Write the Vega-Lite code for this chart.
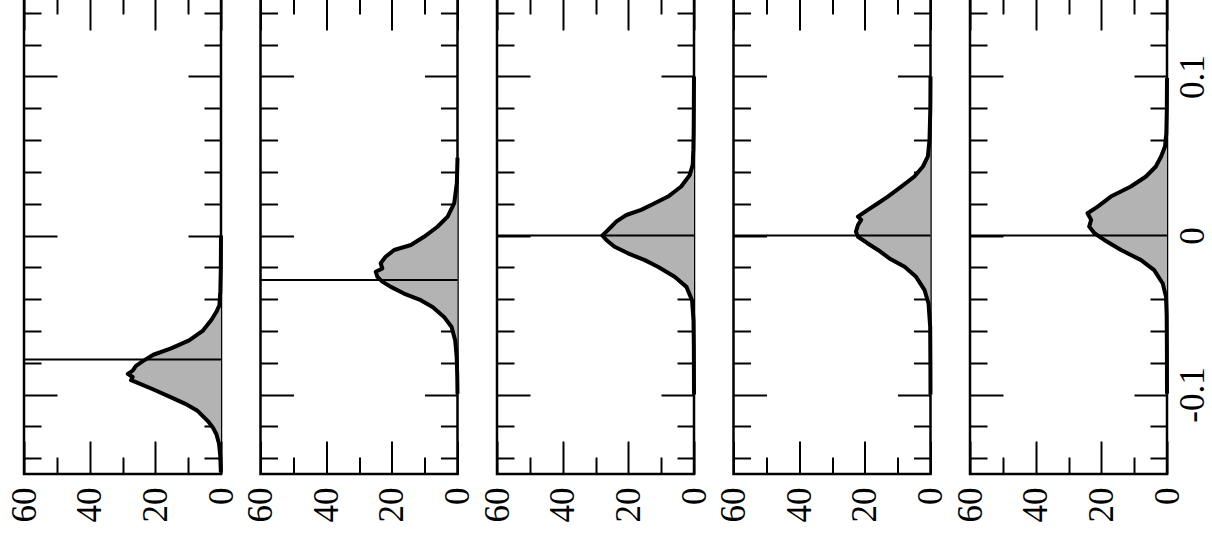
{
"$schema": "https://vega.github.io/schema/vega-lite/v6.json",
"padding": {"left": 5, "top": -6, "right": 0, "bottom": 0},
"background": "white",
"bounds": "flush",
"spacing": 39.5,
"datasets": {
"curves": [
{"p":1,"v":0.0,"d":0},{"p":1,"v":-0.02,"d":0.05},{"p":1,"v":-0.035,"d":0.2},{"p":1,"v":-0.044,"d":0.5},{"p":1,"v":-0.048,"d":1.4},{"p":1,"v":-0.053,"d":2.9},{"p":1,"v":-0.06,"d":5.6},{"p":1,"v":-0.066,"d":9.7},{"p":1,"v":-0.071,"d":15.2},{"p":1,"v":-0.075,"d":20.6},{"p":1,"v":-0.079,"d":23.8},{"p":1,"v":-0.082,"d":25.9},{"p":1,"v":-0.085,"d":26.9},{"p":1,"v":-0.087,"d":28.4},{"p":1,"v":-0.089,"d":26.9},{"p":1,"v":-0.091,"d":27.4},{"p":1,"v":-0.093,"d":25},{"p":1,"v":-0.097,"d":20.4},{"p":1,"v":-0.1018,"d":15.2},{"p":1,"v":-0.1057,"d":11},{"p":1,"v":-0.11,"d":7.3},{"p":1,"v":-0.1167,"d":4},{"p":1,"v":-0.121,"d":2.4},{"p":1,"v":-0.125,"d":1.4},{"p":1,"v":-0.131,"d":0.6},{"p":1,"v":-0.138,"d":0.25},{"p":1,"v":-0.146,"d":0.08},{"p":1,"v":-0.149,"d":0.05},
{"p":2,"v":0.049,"d":0},{"p":2,"v":0.033,"d":0.2},{"p":2,"v":0.0203,"d":1.0},{"p":2,"v":0.0119,"d":3},{"p":2,"v":0.0055,"d":6.1},{"p":2,"v":-0.0008,"d":10.2},{"p":2,"v":-0.006,"d":14.2},{"p":2,"v":-0.0091,"d":19.3},{"p":2,"v":-0.0134,"d":21.9},{"p":2,"v":-0.0175,"d":23.4},{"p":2,"v":-0.0207,"d":22.9},{"p":2,"v":-0.0228,"d":24.9},{"p":2,"v":-0.026,"d":24.4},{"p":2,"v":-0.029,"d":22.9},{"p":2,"v":-0.0323,"d":20.3},{"p":2,"v":-0.0365,"d":16.3},{"p":2,"v":-0.0407,"d":11.2},{"p":2,"v":-0.045,"d":7.6},{"p":2,"v":-0.0512,"d":4.1},{"p":2,"v":-0.0575,"d":1.8},{"p":2,"v":-0.066,"d":0.7},{"p":2,"v":-0.0765,"d":0.25},{"p":2,"v":-0.088,"d":0.08},{"p":2,"v":-0.0996,"d":0},
{"p":3,"v":0.1,"d":0},{"p":3,"v":0.08,"d":0.05},{"p":3,"v":0.065,"d":0.1},{"p":3,"v":0.054,"d":0.2},{"p":3,"v":0.0445,"d":0.4},{"p":3,"v":0.038,"d":1.3},{"p":3,"v":0.0308,"d":3.9},{"p":3,"v":0.0245,"d":7.9},{"p":3,"v":0.0203,"d":12},{"p":3,"v":0.0161,"d":16.1},{"p":3,"v":0.0129,"d":20.6},{"p":3,"v":0.0108,"d":22.2},{"p":3,"v":0.0087,"d":23.7},{"p":3,"v":0.0055,"d":25.2},{"p":3,"v":0.0024,"d":26.7},{"p":3,"v":0.0,"d":27.9},{"p":3,"v":-0.0028,"d":26.7},{"p":3,"v":-0.0071,"d":24.2},{"p":3,"v":-0.0112,"d":20.1},{"p":3,"v":-0.0155,"d":15},{"p":3,"v":-0.0197,"d":11},{"p":3,"v":-0.026,"d":5.9},{"p":3,"v":-0.0323,"d":2.3},{"p":3,"v":-0.0407,"d":0.6},{"p":3,"v":-0.0533,"d":0.15},{"p":3,"v":-0.07,"d":0.05},{"p":3,"v":-0.1,"d":0},
{"p":4,"v":0.1,"d":0},{"p":4,"v":0.08,"d":0.05},{"p":4,"v":0.0603,"d":0.3},{"p":4,"v":0.0497,"d":0.8},{"p":4,"v":0.0434,"d":2.3},{"p":4,"v":0.0371,"d":4.9},{"p":4,"v":0.0308,"d":8.9},{"p":4,"v":0.0245,"d":13},{"p":4,"v":0.0203,"d":16},{"p":4,"v":0.0161,"d":19.1},{"p":4,"v":0.0119,"d":22.1},{"p":4,"v":0.0098,"d":21.1},{"p":4,"v":0.0066,"d":22.1},{"p":4,"v":0.0024,"d":22.7},{"p":4,"v":-0.0008,"d":22.1},{"p":4,"v":-0.005,"d":19.1},{"p":4,"v":-0.0091,"d":16},{"p":4,"v":-0.0144,"d":12.5},{"p":4,"v":-0.0197,"d":7.9},{"p":4,"v":-0.026,"d":4.4},{"p":4,"v":-0.0344,"d":1.8},{"p":4,"v":-0.0428,"d":0.6},{"p":4,"v":-0.0575,"d":0.1},{"p":4,"v":-0.08,"d":0.03},{"p":4,"v":-0.1,"d":0},
{"p":5,"v":0.099,"d":0},{"p":5,"v":0.08,"d":0.05},{"p":5,"v":0.0645,"d":0.2},{"p":5,"v":0.056,"d":0.6},{"p":5,"v":0.0497,"d":1.8},{"p":5,"v":0.0434,"d":3.4},{"p":5,"v":0.0371,"d":6.4},{"p":5,"v":0.0308,"d":11},{"p":5,"v":0.0245,"d":17.1},{"p":5,"v":0.0213,"d":19.1},{"p":5,"v":0.0182,"d":21.1},{"p":5,"v":0.014,"d":24.2},{"p":5,"v":0.0098,"d":23.1},{"p":5,"v":0.0056,"d":23.7},{"p":5,"v":0.0014,"d":22.1},{"p":5,"v":-0.0028,"d":19.1},{"p":5,"v":-0.0091,"d":14},{"p":5,"v":-0.0155,"d":7.9},{"p":5,"v":-0.0218,"d":3.9},{"p":5,"v":-0.0302,"d":1.3},{"p":5,"v":-0.0386,"d":0.3},{"p":5,"v":-0.05,"d":0.1},{"p":5,"v":-0.07,"d":0.03},{"p":5,"v":-0.0996,"d":0}
],
"means": [{"p":1,"v":-0.078},{"p":2,"v":-0.028},{"p":3,"v":0},{"p":4,"v":0},{"p":5,"v":0}]
},
"hconcat": [
{"width":197,"height":477,"resolve":{"axis":{"x":"independent","y":"independent"}},
"layer":[
{"data":{"name":"curves"},"transform":[{"filter":"datum.p == 1"}],"mark":{"type":"area","orient":"horizontal","color":"#b3b3b3"},
"encoding":{"x":{"field":"d","type":"quantitative","scale":{"domain":[0,60],"reverse":true,"nice":false,"zero":false},"axis":{"orient":"bottom","values":[0,20,40,60],"tickSize":-33,"labels":true,"format":"d","labelAngle":-90,"labelAlign":"right","labelBaseline":"middle","labelPadding":46,"labelFlush":false,"labelOverlap":false,"labelFont":"Liberation Serif, DejaVu Serif, serif","labelFontSize":35,"labelColor":"black"}},
"y":{"field":"v","type":"quantitative","scale":{"domain":[-0.15,0.15],"nice":false,"zero":false},"axis":{"orient":"left","values":[-0.1,0,0.1],"tickSize":-33,"labels":false}}}},
{"data":{"name":"curves"},"transform":[{"filter":"datum.p == 1"}],"mark":{"type":"line","color":"black","strokeWidth":4,"strokeJoin":"round"},
"encoding":{"x":{"field":"d","type":"quantitative","axis":{"orient":"top","values":[0,20,40,60],"tickSize":-33,"labels":false}},
"y":{"field":"v","type":"quantitative","axis":{"orient":"right","values":[-0.1,0,0.1],"tickSize":-33,"labels":false}},"order":{"field":"v","type":"quantitative"}}},
{"data":{"name":"curves"},"transform":[{"filter":"datum.p == 1"}],"mark":{"type":"point","opacity":0},
"encoding":{"x":{"field":"d","type":"quantitative","axis":{"orient":"bottom","values":[10,30,50],"tickSize":-17,"labels":false}},
"y":{"field":"v","type":"quantitative","axis":{"orient":"left","values":[-0.14,-0.12,-0.08,-0.06,-0.04,-0.02,0.02,0.04,0.06,0.08,0.12,0.14],"tickSize":-17,"labels":false}}}},
{"data":{"name":"curves"},"transform":[{"filter":"datum.p == 1"}],"mark":{"type":"point","opacity":0},
"encoding":{"x":{"field":"d","type":"quantitative","axis":{"orient":"top","values":[10,30,50],"tickSize":-17,"labels":false}},
"y":{"field":"v","type":"quantitative","axis":{"orient":"right","values":[-0.14,-0.12,-0.08,-0.06,-0.04,-0.02,0.02,0.04,0.06,0.08,0.12,0.14],"tickSize":-17,"labels":false}}}},
{"data":{"name":"means"},"transform":[{"filter":"datum.p == 1"}],"mark":{"type":"rule","color":"black","strokeWidth":2},
"encoding":{"y":{"field":"v","type":"quantitative","axis":null}}}
]},
{"width":197,"height":477,"resolve":{"axis":{"x":"independent","y":"independent"}},
"layer":[
{"data":{"name":"curves"},"transform":[{"filter":"datum.p == 2"}],"mark":{"type":"area","orient":"horizontal","color":"#b3b3b3"},
"encoding":{"x":{"field":"d","type":"quantitative","scale":{"domain":[0,60],"reverse":true,"nice":false,"zero":false},"axis":{"orient":"bottom","values":[0,20,40,60],"tickSize":-33,"labels":true,"format":"d","labelAngle":-90,"labelAlign":"right","labelBaseline":"middle","labelPadding":46,"labelFlush":false,"labelOverlap":false,"labelFont":"Liberation Serif, DejaVu Serif, serif","labelFontSize":35,"labelColor":"black"}},
"y":{"field":"v","type":"quantitative","scale":{"domain":[-0.15,0.15],"nice":false,"zero":false},"axis":{"orient":"left","values":[-0.1,0,0.1],"tickSize":-33,"labels":false}}}},
{"data":{"name":"curves"},"transform":[{"filter":"datum.p == 2"}],"mark":{"type":"line","color":"black","strokeWidth":4,"strokeJoin":"round"},
"encoding":{"x":{"field":"d","type":"quantitative","axis":{"orient":"top","values":[0,20,40,60],"tickSize":-33,"labels":false}},
"y":{"field":"v","type":"quantitative","axis":{"orient":"right","values":[-0.1,0,0.1],"tickSize":-33,"labels":false}},"order":{"field":"v","type":"quantitative"}}},
{"data":{"name":"curves"},"transform":[{"filter":"datum.p == 2"}],"mark":{"type":"point","opacity":0},
"encoding":{"x":{"field":"d","type":"quantitative","axis":{"orient":"bottom","values":[10,30,50],"tickSize":-17,"labels":false}},
"y":{"field":"v","type":"quantitative","axis":{"orient":"left","values":[-0.14,-0.12,-0.08,-0.06,-0.04,-0.02,0.02,0.04,0.06,0.08,0.12,0.14],"tickSize":-17,"labels":false}}}},
{"data":{"name":"curves"},"transform":[{"filter":"datum.p == 2"}],"mark":{"type":"point","opacity":0},
"encoding":{"x":{"field":"d","type":"quantitative","axis":{"orient":"top","values":[10,30,50],"tickSize":-17,"labels":false}},
"y":{"field":"v","type":"quantitative","axis":{"orient":"right","values":[-0.14,-0.12,-0.08,-0.06,-0.04,-0.02,0.02,0.04,0.06,0.08,0.12,0.14],"tickSize":-17,"labels":false}}}},
{"data":{"name":"means"},"transform":[{"filter":"datum.p == 2"}],"mark":{"type":"rule","color":"black","strokeWidth":2},
"encoding":{"y":{"field":"v","type":"quantitative","axis":null}}}
]},
{"width":197,"height":477,"resolve":{"axis":{"x":"independent","y":"independent"}},
"layer":[
{"data":{"name":"curves"},"transform":[{"filter":"datum.p == 3"}],"mark":{"type":"area","orient":"horizontal","color":"#b3b3b3"},
"encoding":{"x":{"field":"d","type":"quantitative","scale":{"domain":[0,60],"reverse":true,"nice":false,"zero":false},"axis":{"orient":"bottom","values":[0,20,40,60],"tickSize":-33,"labels":true,"format":"d","labelAngle":-90,"labelAlign":"right","labelBaseline":"middle","labelPadding":46,"labelFlush":false,"labelOverlap":false,"labelFont":"Liberation Serif, DejaVu Serif, serif","labelFontSize":35,"labelColor":"black"}},
"y":{"field":"v","type":"quantitative","scale":{"domain":[-0.15,0.15],"nice":false,"zero":false},"axis":{"orient":"left","values":[-0.1,0,0.1],"tickSize":-33,"labels":false}}}},
{"data":{"name":"curves"},"transform":[{"filter":"datum.p == 3"}],"mark":{"type":"line","color":"black","strokeWidth":4,"strokeJoin":"round"},
"encoding":{"x":{"field":"d","type":"quantitative","axis":{"orient":"top","values":[0,20,40,60],"tickSize":-33,"labels":false}},
"y":{"field":"v","type":"quantitative","axis":{"orient":"right","values":[-0.1,0,0.1],"tickSize":-33,"labels":false}},"order":{"field":"v","type":"quantitative"}}},
{"data":{"name":"curves"},"transform":[{"filter":"datum.p == 3"}],"mark":{"type":"point","opacity":0},
"encoding":{"x":{"field":"d","type":"quantitative","axis":{"orient":"bottom","values":[10,30,50],"tickSize":-17,"labels":false}},
"y":{"field":"v","type":"quantitative","axis":{"orient":"left","values":[-0.14,-0.12,-0.08,-0.06,-0.04,-0.02,0.02,0.04,0.06,0.08,0.12,0.14],"tickSize":-17,"labels":false}}}},
{"data":{"name":"curves"},"transform":[{"filter":"datum.p == 3"}],"mark":{"type":"point","opacity":0},
"encoding":{"x":{"field":"d","type":"quantitative","axis":{"orient":"top","values":[10,30,50],"tickSize":-17,"labels":false}},
"y":{"field":"v","type":"quantitative","axis":{"orient":"right","values":[-0.14,-0.12,-0.08,-0.06,-0.04,-0.02,0.02,0.04,0.06,0.08,0.12,0.14],"tickSize":-17,"labels":false}}}},
{"data":{"name":"means"},"transform":[{"filter":"datum.p == 3"}],"mark":{"type":"rule","color":"black","strokeWidth":2},
"encoding":{"y":{"field":"v","type":"quantitative","axis":null}}}
]},
{"width":197,"height":477,"resolve":{"axis":{"x":"independent","y":"independent"}},
"layer":[
{"data":{"name":"curves"},"transform":[{"filter":"datum.p == 4"}],"mark":{"type":"area","orient":"horizontal","color":"#b3b3b3"},
"encoding":{"x":{"field":"d","type":"quantitative","scale":{"domain":[0,60],"reverse":true,"nice":false,"zero":false},"axis":{"orient":"bottom","values":[0,20,40,60],"tickSize":-33,"labels":true,"format":"d","labelAngle":-90,"labelAlign":"right","labelBaseline":"middle","labelPadding":46,"labelFlush":false,"labelOverlap":false,"labelFont":"Liberation Serif, DejaVu Serif, serif","labelFontSize":35,"labelColor":"black"}},
"y":{"field":"v","type":"quantitative","scale":{"domain":[-0.15,0.15],"nice":false,"zero":false},"axis":{"orient":"left","values":[-0.1,0,0.1],"tickSize":-33,"labels":false}}}},
{"data":{"name":"curves"},"transform":[{"filter":"datum.p == 4"}],"mark":{"type":"line","color":"black","strokeWidth":4,"strokeJoin":"round"},
"encoding":{"x":{"field":"d","type":"quantitative","axis":{"orient":"top","values":[0,20,40,60],"tickSize":-33,"labels":false}},
"y":{"field":"v","type":"quantitative","axis":{"orient":"right","values":[-0.1,0,0.1],"tickSize":-33,"labels":false}},"order":{"field":"v","type":"quantitative"}}},
{"data":{"name":"curves"},"transform":[{"filter":"datum.p == 4"}],"mark":{"type":"point","opacity":0},
"encoding":{"x":{"field":"d","type":"quantitative","axis":{"orient":"bottom","values":[10,30,50],"tickSize":-17,"labels":false}},
"y":{"field":"v","type":"quantitative","axis":{"orient":"left","values":[-0.14,-0.12,-0.08,-0.06,-0.04,-0.02,0.02,0.04,0.06,0.08,0.12,0.14],"tickSize":-17,"labels":false}}}},
{"data":{"name":"curves"},"transform":[{"filter":"datum.p == 4"}],"mark":{"type":"point","opacity":0},
"encoding":{"x":{"field":"d","type":"quantitative","axis":{"orient":"top","values":[10,30,50],"tickSize":-17,"labels":false}},
"y":{"field":"v","type":"quantitative","axis":{"orient":"right","values":[-0.14,-0.12,-0.08,-0.06,-0.04,-0.02,0.02,0.04,0.06,0.08,0.12,0.14],"tickSize":-17,"labels":false}}}},
{"data":{"name":"means"},"transform":[{"filter":"datum.p == 4"}],"mark":{"type":"rule","color":"black","strokeWidth":2},
"encoding":{"y":{"field":"v","type":"quantitative","axis":null}}}
]},
{"width":197,"height":477,"resolve":{"axis":{"x":"independent","y":"independent"}},
"layer":[
{"data":{"name":"curves"},"transform":[{"filter":"datum.p == 5"}],"mark":{"type":"area","orient":"horizontal","color":"#b3b3b3"},
"encoding":{"x":{"field":"d","type":"quantitative","scale":{"domain":[0,60],"reverse":true,"nice":false,"zero":false},"axis":{"orient":"bottom","values":[0,20,40,60],"tickSize":-33,"labels":true,"format":"d","labelAngle":-90,"labelAlign":"right","labelBaseline":"middle","labelPadding":46,"labelFlush":false,"labelOverlap":false,"labelFont":"Liberation Serif, DejaVu Serif, serif","labelFontSize":35,"labelColor":"black"}},
"y":{"field":"v","type":"quantitative","scale":{"domain":[-0.15,0.15],"nice":false,"zero":false},"axis":{"orient":"left","values":[-0.1,0,0.1],"tickSize":-33,"labels":false}}}},
{"data":{"name":"curves"},"transform":[{"filter":"datum.p == 5"}],"mark":{"type":"line","color":"black","strokeWidth":4,"strokeJoin":"round"},
"encoding":{"x":{"field":"d","type":"quantitative","axis":{"orient":"top","values":[0,20,40,60],"tickSize":-33,"labels":false}},
"y":{"field":"v","type":"quantitative","axis":{"orient":"right","values":[-0.1,0,0.1],"tickSize":-33,"labels":true,"labelExpr":"datum.value == 0 ? '0' : (datum.value < 0 ? '-' : '') + format(abs(datum.value), '.1f')","labelAngle":-90,"labelAlign":"center","labelBaseline":"top","labelPadding":41,"labelFlush":false,"labelOverlap":false,"labelFont":"Liberation Serif, DejaVu Serif, serif","labelFontSize":35,"labelColor":"black"}},"order":{"field":"v","type":"quantitative"}}},
{"data":{"name":"curves"},"transform":[{"filter":"datum.p == 5"}],"mark":{"type":"point","opacity":0},
"encoding":{"x":{"field":"d","type":"quantitative","axis":{"orient":"bottom","values":[10,30,50],"tickSize":-17,"labels":false}},
"y":{"field":"v","type":"quantitative","axis":{"orient":"left","values":[-0.14,-0.12,-0.08,-0.06,-0.04,-0.02,0.02,0.04,0.06,0.08,0.12,0.14],"tickSize":-17,"labels":false}}}},
{"data":{"name":"curves"},"transform":[{"filter":"datum.p == 5"}],"mark":{"type":"point","opacity":0},
"encoding":{"x":{"field":"d","type":"quantitative","axis":{"orient":"top","values":[10,30,50],"tickSize":-17,"labels":false}},
"y":{"field":"v","type":"quantitative","axis":{"orient":"right","values":[-0.14,-0.12,-0.08,-0.06,-0.04,-0.02,0.02,0.04,0.06,0.08,0.12,0.14],"tickSize":-17,"labels":false}}}},
{"data":{"name":"means"},"transform":[{"filter":"datum.p == 5"}],"mark":{"type":"rule","color":"black","strokeWidth":2},
"encoding":{"y":{"field":"v","type":"quantitative","axis":null}}}
]}
],
"config": {
"view": {"stroke": "black", "strokeWidth": 2.5},
"axis": {"grid": false, "domain": false, "title": null, "tickColor": "black", "tickWidth": 2, "labelFont": "Liberation Serif, DejaVu Serif, serif", "labelFontSize": 35, "labelColor": "black", "zindex": 1}
}
}
